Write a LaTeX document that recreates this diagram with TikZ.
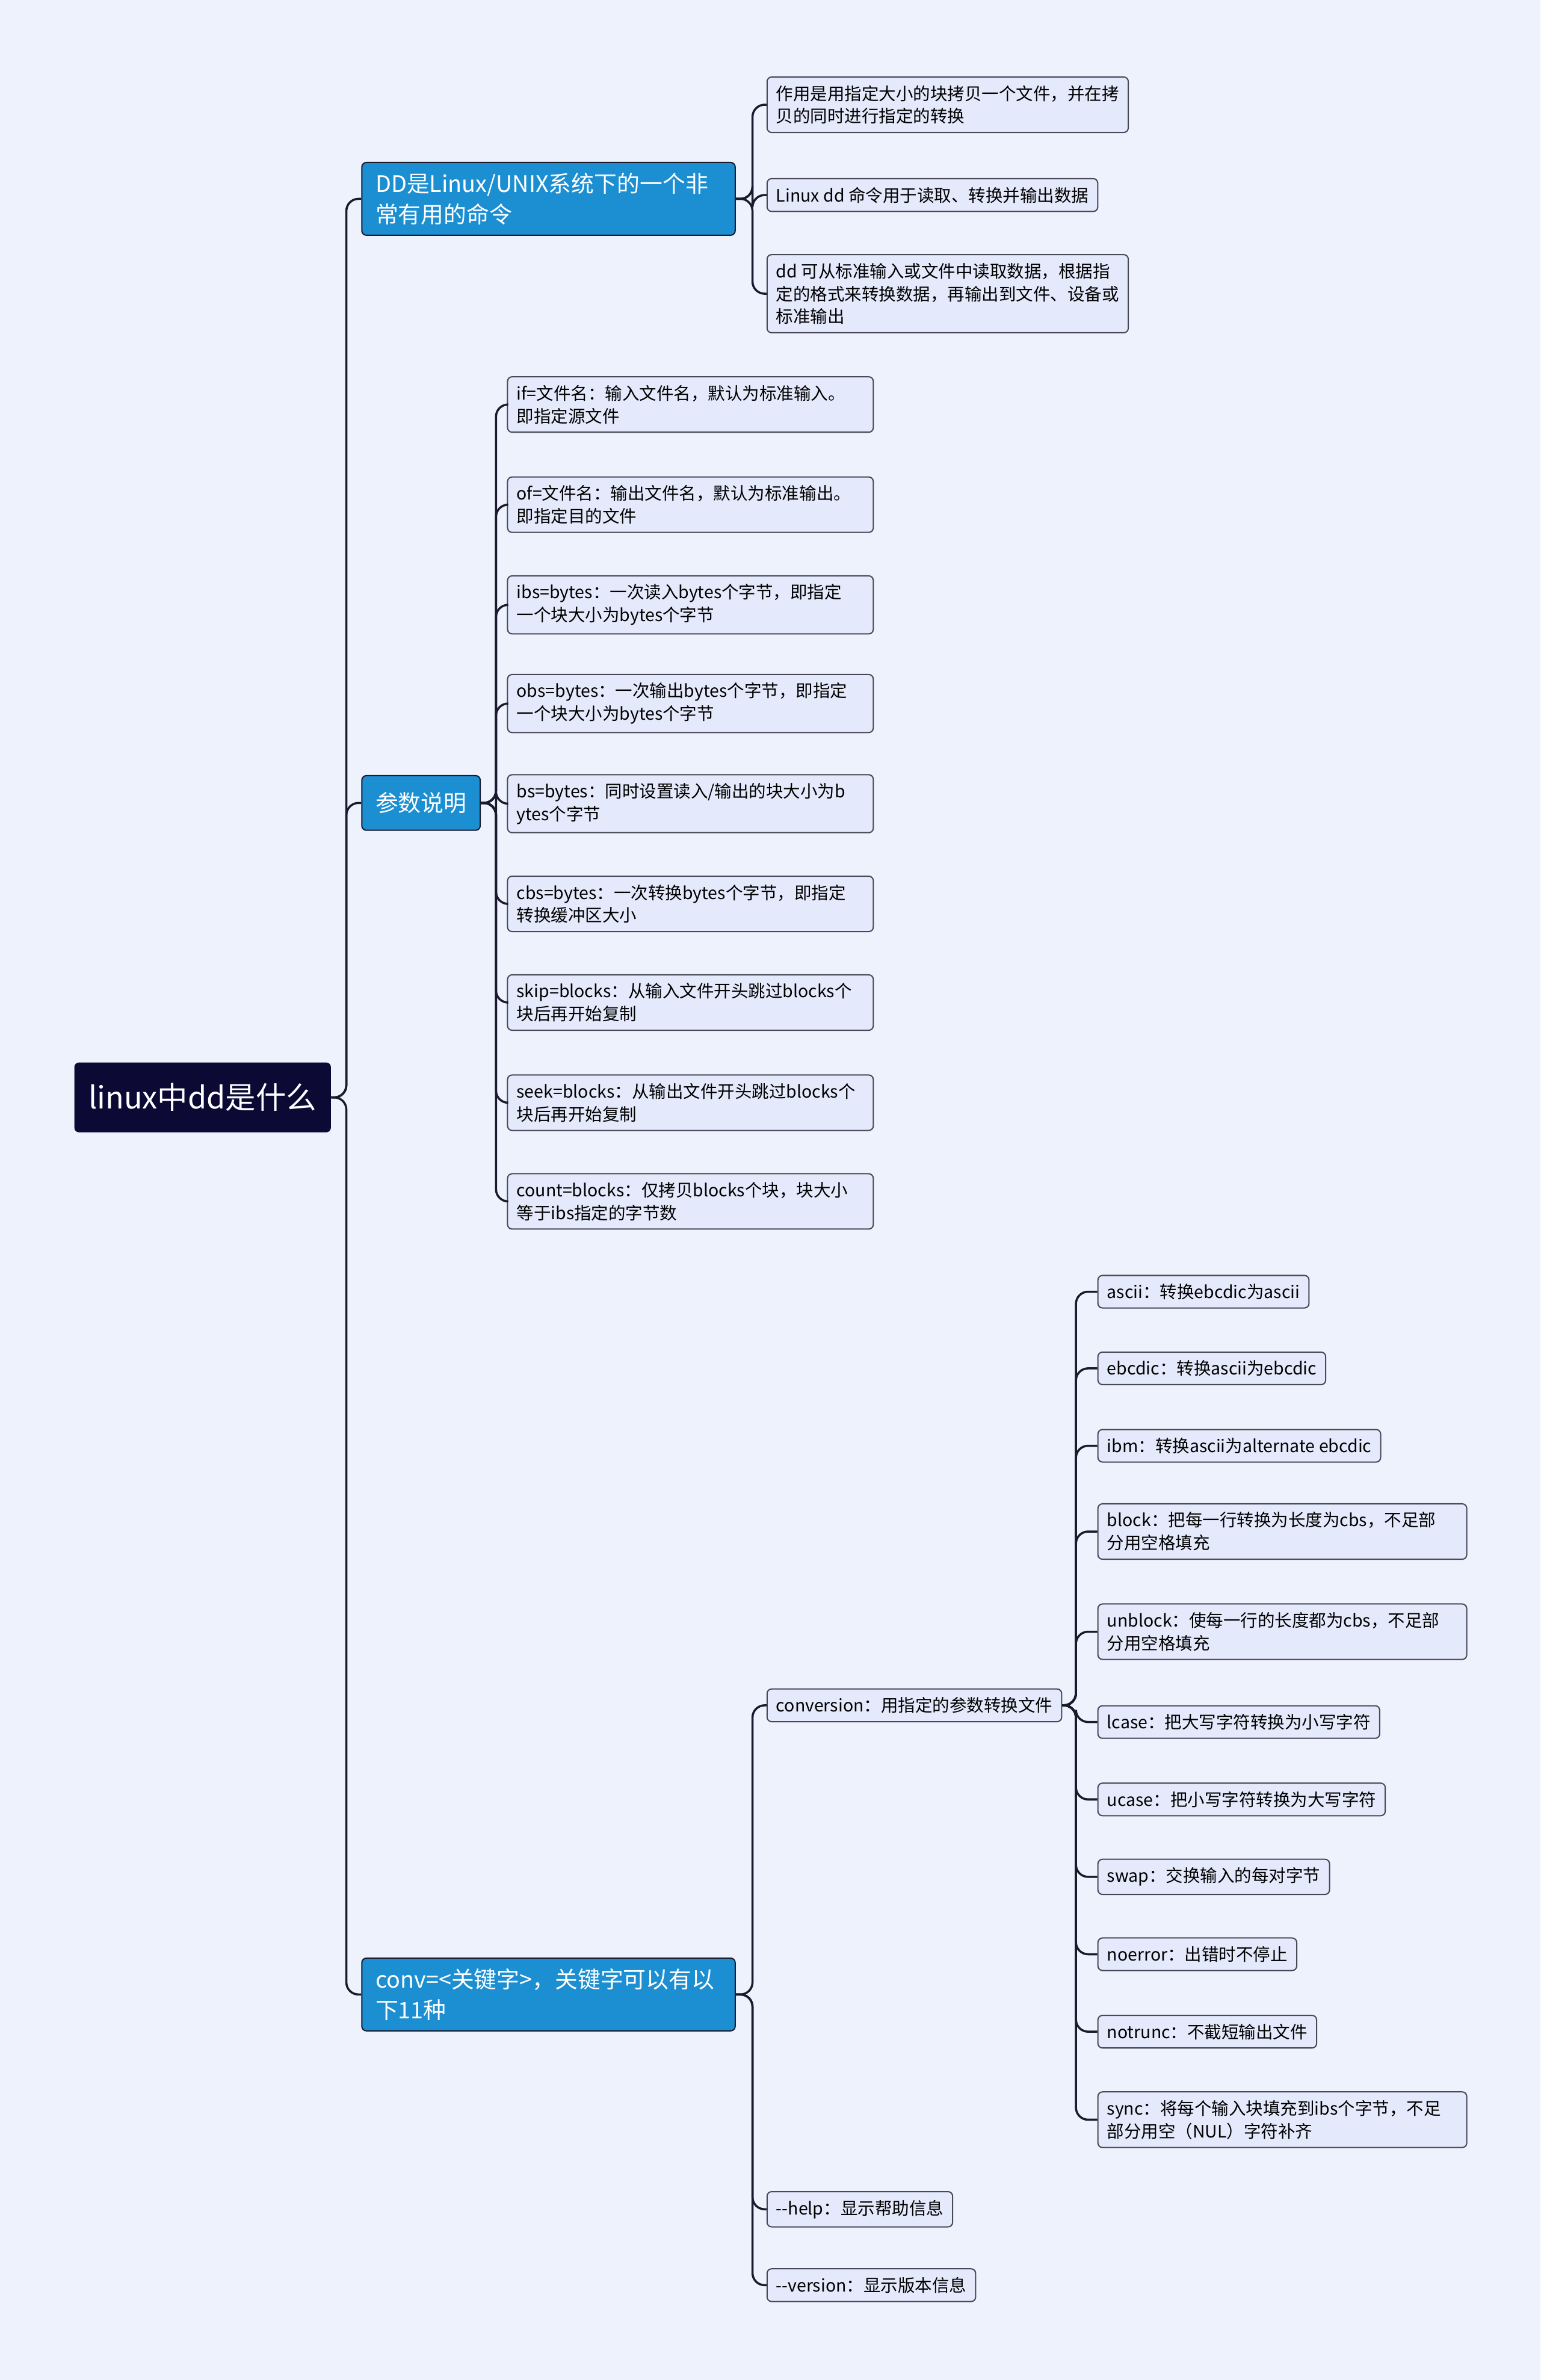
\documentclass[tikz,border=0pt]{standalone}
\usepackage{fontspec}
\setmainfont{Noto Sans CJK SC}
\definecolor{bgc}{HTML}{EEF2FD}
\definecolor{leafc}{HTML}{E4E9FB}
\definecolor{mainc}{HTML}{1B8FD2}
\definecolor{rootc}{HTML}{0C0A35}
\definecolor{linec}{HTML}{1A1A2E}
\begin{document}
\begin{tikzpicture}[x=1pt,y=-1pt,
    leaf/.style={draw=linec!80,fill=leafc,rounded corners=3pt,anchor=west,align=left,
        font=\fontsize{11.3}{15}\selectfont,inner xsep=6pt,inner ysep=5.5pt,line width=0.8pt},
    mainbox/.style={draw=linec,fill=mainc,text=white,rounded corners=3pt,anchor=west,align=left,
        font=\fontsize{15}{20}\selectfont,inner xsep=9pt,inner ysep=7pt,line width=0.8pt},
    conn/.style={draw=linec,line width=1.4pt,rounded corners=8pt}]
        \fill[bgc] (0,0) rectangle (1015,1568);
        % root and main branches
        \node[fill=rootc,text=white,rounded corners=3pt,minimum width=169,minimum height=46,
            font=\fontsize{20}{24}\selectfont] (root) at (133.5,723) {linux中dd是什么};
        \node[mainbox,text width=228] (dd) at (238,131) {DD是Linux/UNIX系统下的一个非\\常有用的命令};
        \node[mainbox,minimum height=36] (para) at (238,529) {参数说明};
        \node[mainbox,text width=228] (conv) at (238,1314) {conv=<关键字>，关键字可以有以\\下11种};
        % dd
        \node[leaf] (dd1) at (505,69) {作用是用指定大小的块拷贝一个文件，并在拷\\贝的同时进行指定的转换};
        \node[leaf] (dd2) at (505,128.5) {Linux dd 命令用于读取、转换并输出数据};
        \node[leaf] (dd3) at (505,193.5) {dd 可从标准输入或文件中读取数据，根据指\\定的格式来转换数据，再输出到文件、设备或\\标准输出};
        % parameters
        \node[leaf,text width=229] (p1) at (334,266.5) {if=文件名：输入文件名，默认为标准输入。\\即指定源文件};
        \node[leaf,text width=229] (p2) at (334,332.5) {of=文件名：输出文件名，默认为标准输出。\\即指定目的文件};
        \node[leaf,text width=229] (p3) at (334,398.5) {ibs=bytes：一次读入bytes个字节，即指定\\一个块大小为bytes个字节};
        \node[leaf,text width=229] (p4) at (334,463.5) {obs=bytes：一次输出bytes个字节，即指定\\一个块大小为bytes个字节};
        \node[leaf,text width=229] (p5) at (334,529.5) {bs=bytes：同时设置读入/输出的块大小为b\\ytes个字节};
        \node[leaf,text width=229] (p6) at (334,595.5) {cbs=bytes：一次转换bytes个字节，即指定\\转换缓冲区大小};
        \node[leaf,text width=229] (p7) at (334,660.5) {skip=blocks：从输入文件开头跳过blocks个\\块后再开始复制};
        \node[leaf,text width=229] (p8) at (334,726.5) {seek=blocks：从输出文件开头跳过blocks个\\块后再开始复制};
        \node[leaf,text width=229] (p9) at (334,791.5) {count=blocks：仅拷贝blocks个块，块大小\\等于ibs指定的字节数};
        % conv
        \node[leaf] (cv) at (505,1123.5) {conversion：用指定的参数转换文件};
        \node[leaf] (help) at (505,1455.5) {{-}{-}help：显示帮助信息};
        \node[leaf] (ver) at (505,1505.5) {{-}{-}version：显示版本信息};
        \node[leaf] (c1) at (723,851) {ascii：转换ebcdic为ascii};
        \node[leaf] (c2) at (723,901.5) {ebcdic：转换ascii为ebcdic};
        \node[leaf] (c3) at (723,952.5) {ibm：转换ascii为alternate ebcdic};
        \node[leaf,text width=231] (c4) at (723,1009) {block：把每一行转换为长度为cbs，不足部\\分用空格填充};
        \node[leaf,text width=231] (c5) at (723,1075) {unblock：使每一行的长度都为cbs，不足部\\分用空格填充};
        \node[leaf] (c6) at (723,1134.5) {lcase：把大写字符转换为小写字符};
        \node[leaf] (c7) at (723,1185.5) {ucase：把小写字符转换为大写字符};
        \node[leaf] (c8) at (723,1236.5) {swap：交换输入的每对字节};
        \node[leaf] (c9) at (723,1287.5) {noerror：出错时不停止};
        \node[leaf] (c10) at (723,1338.5) {notrunc：不截短输出文件};
        \node[leaf,text width=231] (c11) at (723,1396.5) {sync：将每个输入块填充到ibs个字节，不足\\部分用空（NUL）字符补齐};
        % connectors
        \foreach \c in {dd,para,conv}{
            \draw[conn] (root.east) -- ++(10,0) |- (\c.west);
        }
        \foreach \c in {dd1,dd2,dd3}{
            \draw[conn] (dd.east) -- ++(11,0) |- (\c.west);
        }
        \foreach \c in {p1,p2,p3,p4,p5,p6,p7,p8,p9}{
            \draw[conn] (para.east) -- ++(10,0) |- (\c.west);
        }
        \foreach \c in {cv,help,ver}{
            \draw[conn] (conv.east) -- ++(11,0) |- (\c.west);
        }
        \foreach \c in {c1,c2,c3,c4,c5,c6,c7,c8,c9,c10,c11}{
            \draw[conn] (cv.east) -- ++(9,0) |- (\c.west);
        }
\end{tikzpicture}
\end{document}
